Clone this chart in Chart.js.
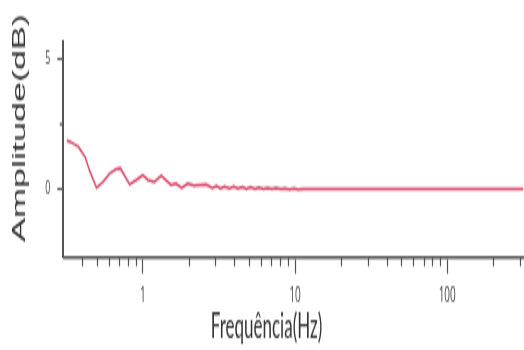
<!DOCTYPE html>
<html lang="pt">
<head>
<meta charset="UTF-8">
<title>Amplitude x Frequência</title>
<style>
  body { margin: 0; background: #fff; }
</style>
</head>
<body>
<!-- drawn at half height, shown stretched to full height -->
<canvas id="grafico" width="524" height="175" style="display:block;width:524px;height:350px"></canvas>

<script src="https://cdn.jsdelivr.net/npm/chart.js"></script>
<script>
// frequency (Hz) and amplitude (dB)
const freq = [0.3162, 0.333, 0.377, 0.417, 0.449, 0.496, 0.548, 0.607, 0.67, 0.711,
  0.819, 0.904, 1.0, 1.08, 1.19, 1.32, 1.53, 1.65, 1.80, 1.97,
  2.17, 2.40, 2.61, 2.86, 3.05, 3.25, 3.45, 3.7, 3.95, 4.2,
  4.5, 4.8, 5.1, 5.45, 5.8, 6.2, 6.6, 7.05, 7.5, 8.0,
  8.6, 9.2, 9.8, 10.5, 11.3, 13, 20, 50, 100, 200, 316.2];
const amp = [1.88, 1.83, 1.64, 1.25, 0.68, 0.06, 0.29, 0.62, 0.78, 0.81,
  0.19, 0.36, 0.55, 0.36, 0.29, 0.52, 0.17, 0.23, 0.06, 0.23,
  0.14, 0.17, 0.19, 0.06, 0.12, 0.04, 0.11, 0.03, 0.10, 0.03,
  0.09, 0.02, 0.08, 0.02, 0.07, 0.01, 0.06, 0.01, 0.05, 0.01,
  0.04, 0.00, 0.03, 0.00, 0.02, 0.01, 0.01, 0.01, 0.01, 0.01, 0.01];

const xLabels = [1, 10, 100];
const xMinor = [0.4, 0.5, 0.6, 0.7, 0.8, 0.9, 2, 3, 4, 5, 6, 7, 8, 9,
  20, 30, 40, 50, 60, 70, 80, 90, 200, 300];
const yLabels = [0, 5];
const yMinor = [2.5];

const axisColor = '#555';

// short ticks between the labelled ones, plus the two axis titles
const extras = {
  id: 'extras',
  afterDraw(chart) {
    const { ctx, chartArea, scales: { x, y } } = chart;
    ctx.save();
    ctx.strokeStyle = axisColor;
    ctx.lineWidth = 1.2;
    ctx.beginPath();
    xMinor.forEach(v => {
      const px = Math.round(x.getPixelForValue(v)) + 0.5;
      ctx.moveTo(px, x.top);
      ctx.lineTo(px, x.top + 4.5);
    });
    yMinor.forEach(v => {
      const py = y.getPixelForValue(v);
      ctx.moveTo(y.right, py);
      ctx.lineTo(y.right - 3.5, py);
    });
    ctx.stroke();

    ctx.fillStyle = '#333';
    ctx.font = '17px Lato';
    ctx.textAlign = 'center';
    ctx.textBaseline = 'alphabetic';
    ctx.fillText('Frequência(Hz)', 266.5, 169);

    ctx.translate(25, (chartArea.top + chartArea.bottom) / 2 - 11);
    ctx.rotate(-Math.PI / 2);
    ctx.font = '18px "Liberation Sans"';
    ctx.fillText('Amplitude(dB)', 0, 0);
    ctx.restore();
  }
};

new Chart(document.getElementById('grafico'), {
  type: 'line',
  data: {
    datasets: [{
      data: freq.map((f, i) => ({ x: f, y: amp[i] })),
      borderColor: '#d84c6c',
      borderWidth: 1.5,
      pointRadius: 0,
      tension: 0,
      fill: false
    }]
  },
  options: {
    responsive: false,
    devicePixelRatio: 1,
    animation: false,
    layout: { padding: { top: 21, right: 0.7, left: 0, bottom: 0 } },
    plugins: { legend: { display: false }, tooltip: { enabled: false } },
    scales: {
      x: {
        type: 'logarithmic',
        min: 0.31623,
        max: 316.23,
        afterBuildTicks: axis => { axis.ticks = xLabels.map(v => ({ value: v })); },
        afterFit: axis => { axis.height = 46.15; },
        grid: { drawOnChartArea: false, tickLength: 8, tickColor: axisColor, tickWidth: 1.2 },
        border: { color: axisColor, width: 1.5 },
        ticks: {
          autoSkip: false,
          maxRotation: 0,
          padding: 5,
          color: '#444',
          font: { family: 'Open Sans', size: 10 },
          callback: v => String(v)
        }
      },
      y: {
        min: -2.63,
        max: 5.67,
        afterBuildTicks: axis => { axis.ticks = yLabels.map(v => ({ value: v })); },
        afterFit: axis => { axis.width = 63.3; },
        grid: { drawOnChartArea: false, tickLength: 6, tickColor: axisColor, tickWidth: 1.2 },
        border: { color: axisColor, width: 2 },
        ticks: {
          padding: 7,
          color: '#444',
          font: { family: 'Open Sans', size: 9 }
        }
      }
    }
  },
  plugins: [extras]
});
</script>
</body>
</html>
